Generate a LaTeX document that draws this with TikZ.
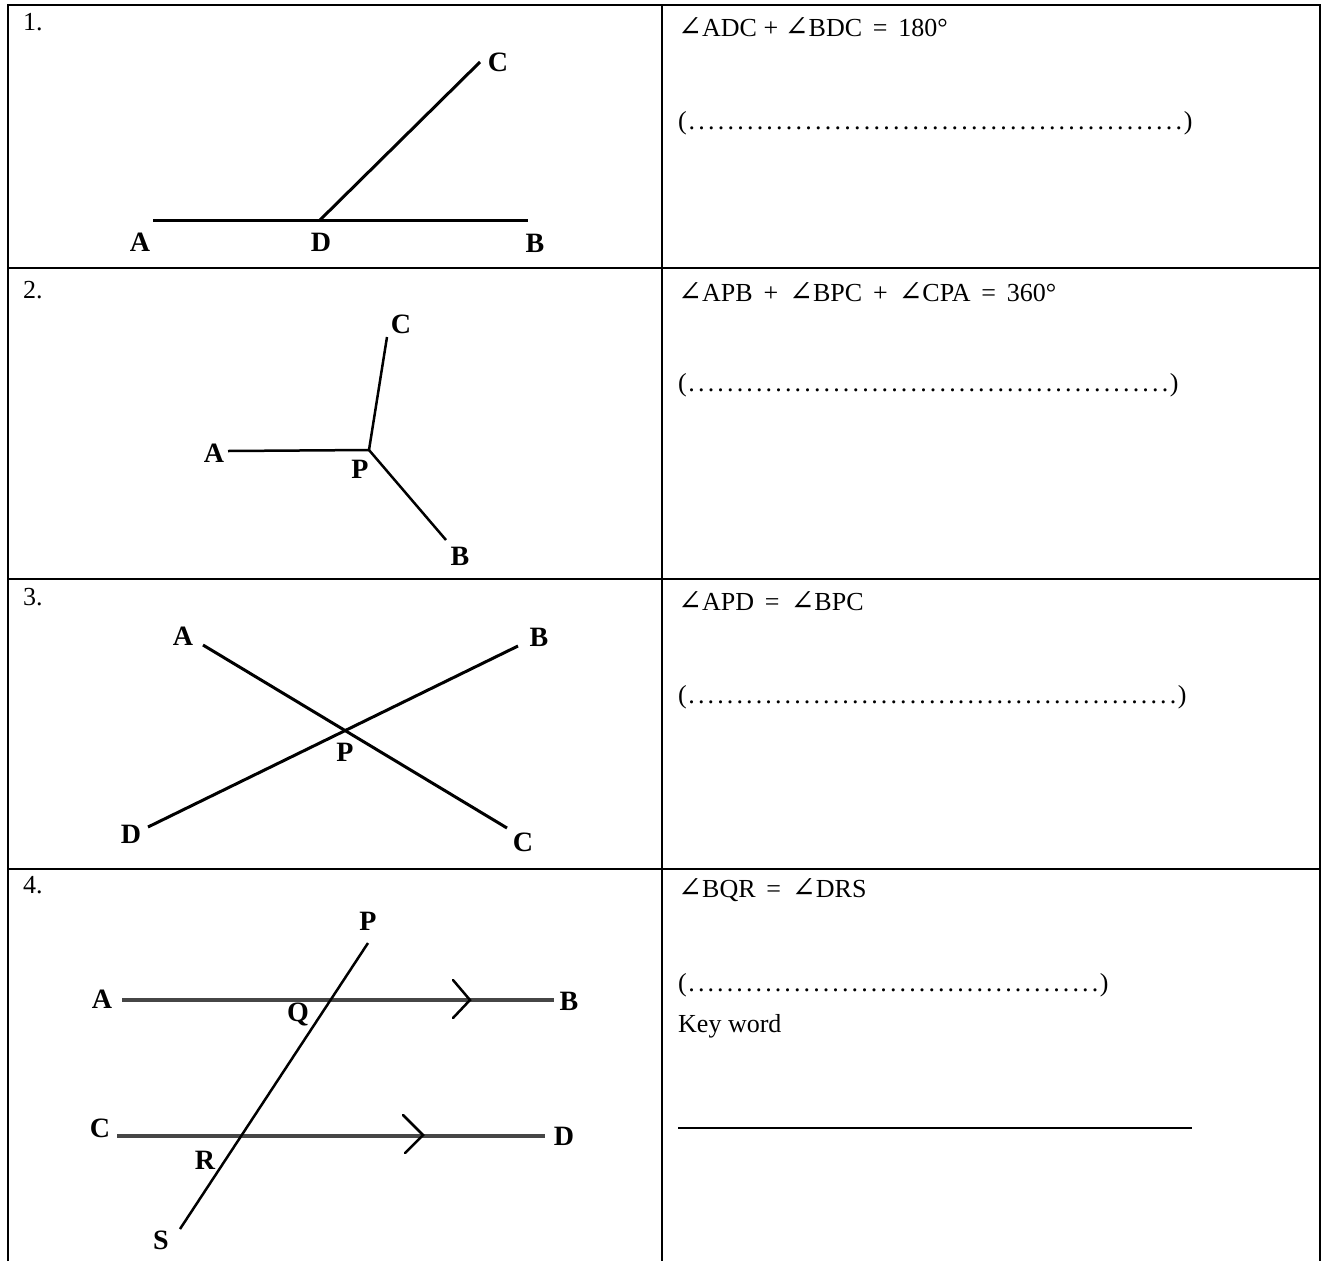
\documentclass[tikz,border=0pt]{standalone}
\usepackage{fontspec}
\setmainfont{Liberation Serif}
\newfontfamily\angf[Scale=1.1]{DejaVu Serif}
\newcommand\myang{{\angf ∠}}
\newcommand\txtfont{\fontsize{26}{30}\selectfont}
\newcommand\lblfont{\fontsize{28}{30}\selectfont\bfseries}
\newcommand\dts[1]{\hbox to #1{\xleaders\hbox to 9.6pt{\hss.\hss}\hfill}}
\tikzset{
  frame/.style={line width=2pt, black},
  geo/.style={line width=3pt, black},
  parline/.style={line width=3.5pt, gray!55!black},
  chev/.style={line width=2.5pt, black, line cap=round, line join=miter},
  lbl/.style={font=\lblfont, inner sep=0pt},
  txt/.style={font=\txtfont, anchor=west, inner sep=0pt},
  num/.style={font=\txtfont, inner sep=0pt}
}
\begin{document}
\begin{tikzpicture}[x=1pt,y=-1pt]
\useasboundingbox (0,0) rectangle (1327,1261);
% table frame
\draw[frame] (8,1261) -- (8,5) -- (1320,5) -- (1320,1261);
\draw[frame] (662,5) -- (662,1261);
\draw[frame] (8,268) -- (1320,268);
\draw[frame] (8,579) -- (1320,579);
\draw[frame] (8,869) -- (1320,869);

% numbers
\node[num] (n1) at (33,22) {1.};
\node[num] (n2) at (33,290) {2.};
\node[num] (n3) at (33,597) {3.};
\node[num] (n4) at (33,885) {4.};

% ---- Panel 1
\coordinate (p1A) at (153,220);
\coordinate (p1B) at (528,220);
\coordinate (p1D) at (320,220);
\coordinate (p1C) at (480,62);
\draw[geo] (p1A) -- (p1B);
\draw[geo] (p1D) -- (p1C);
\node[lbl] (l1A) at (140,242) {A};
\node[lbl] (l1D) at (321,242) {D};
\node[lbl] (l1B) at (535,243) {B};
\node[lbl] (l1C) at (498,62) {C};
\node[txt] (t1) at (678,27) {\myang ADC + \myang BDC \,=\, 180°};
\node[txt] (d1) at (678,123) {(\dts{497pt})};

% ---- Panel 2
\coordinate (p2P) at (369,450);
\coordinate (p2A) at (228,451);
\coordinate (p2C) at (387,337);
\coordinate (p2B) at (446,540);
\draw[geo, line width=2.5pt] (p2A) -- (p2P) -- (p2C);
\draw[geo, line width=2.5pt] (p2P) -- (p2B);
\node[lbl] (l2C) at (401,324) {C};
\node[lbl] (l2A) at (214,453) {A};
\node[lbl] (l2P) at (360,469) {P};
\node[lbl] (l2B) at (460,556) {B};
\node[txt] (t2) at (678,292) {\myang APB \,+\, \myang BPC \,+\, \myang CPA \,=\, 360°};
\node[txt] (d2) at (678,385) {(\dts{483pt})};

% ---- Panel 3
\coordinate (p3A) at (203,645);
\coordinate (p3C) at (507,828);
\coordinate (p3B) at (518,646);
\coordinate (p3D) at (148,827);
\draw[geo] (p3A) -- (p3C);
\draw[geo] (p3B) -- (p3D);
\node[lbl] (l3A) at (183,636) {A};
\node[lbl] (l3B) at (539,637) {B};
\node[lbl] (l3P) at (345,752) {P};
\node[lbl] (l3D) at (131,834) {D};
\node[lbl] (l3C) at (523,842) {C};
\node[txt] (t3) at (678,601) {\myang APD \,=\, \myang BPC};
\node[txt] (d3) at (678,697) {(\dts{491pt})};

% ---- Panel 4
\coordinate (p4A) at (122,1000);
\coordinate (p4B) at (554,1000);
\coordinate (p4C) at (117,1136);
\coordinate (p4D) at (545,1136);
\coordinate (p4P) at (368,943);
\coordinate (p4S) at (180,1229);
\draw[parline] (p4A) -- (p4B);
\draw[parline] (p4C) -- (p4D);
\draw[geo, line width=2.5pt] (p4P) -- (p4S);
\coordinate (ch1) at (470,1000);
\coordinate (ch2) at (423,1135);
\draw[chev] ([shift={(-17,-20)}]ch1) -- (ch1) -- ([shift={(-17,18)}]ch1);
\draw[chev] ([shift={(-20,-20)}]ch2) -- (ch2) -- ([shift={(-18,18)}]ch2);
\node[lbl] (l4P) at (368,921) {P};
\node[lbl] (l4A) at (102,999) {A};
\node[lbl] (l4B) at (569,1001) {B};
\node[lbl] (l4Q) at (298,1014) {Q};
\node[lbl] (l4C) at (100,1128) {C};
\node[lbl] (l4D) at (564,1136) {D};
\node[lbl] (l4R) at (205,1160) {R};
\node[lbl] (l4S) at (161,1240) {S};
\node[txt] (t4) at (678,890) {\myang BQR \,=\, \myang DRS};
\node[txt] (d4) at (678,985) {(\dts{413pt})};
\node[txt] (kw) at (678,1026) {Key word};
\coordinate (kl1) at (678,1128);
\coordinate (kl2) at (1192,1128);
\draw[line width=1.5pt] (kl1) -- (kl2);
\end{tikzpicture}
\end{document}
